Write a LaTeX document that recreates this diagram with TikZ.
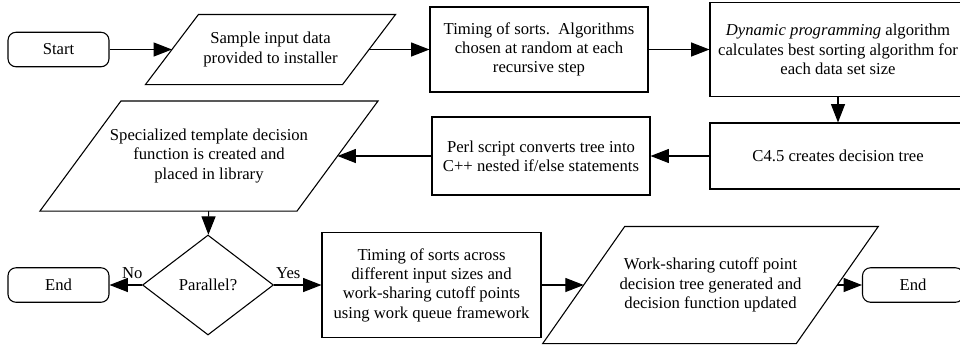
\documentclass[tikz,border=0pt]{standalone}
\usepackage{fontspec}
\setmainfont{Liberation Serif}
\usetikzlibrary{shapes.geometric, arrows.meta}
\tikzstyle{terminal} = [rectangle, rounded corners=4.8pt, minimum width=60.6pt, minimum height=20.7pt, text centered, draw=black]
\tikzstyle{process} = [rectangle, align=center, draw=black]
\tikzstyle{io} = [rectangle, align=center, inner sep=1pt]
\tikzstyle{decision} = [diamond, minimum width=78.6pt, minimum height=60pt, aspect=1.3, inner sep=0pt, draw=black]
\tikzstyle{arrow} = [-{Triangle[length=11pt,width=8.4pt]}]
% slanted frame round an io node: #1 node, #2 half the slant
\newcommand{\ioframe}[2]{\draw ([xshift=-#2]#1.south west) -- ([xshift=-#2]#1.south east) -- ([xshift=#2]#1.north east) -- ([xshift=#2]#1.north west) -- cycle;}

\begin{document}
\begin{tikzpicture}[x=0.6pt, y=-0.6pt, line width=0.65pt, font=\fontsize{10}{11.6}\selectfont]
\useasboundingbox (0,0) rectangle (960,345);
% top row
\node (start) [terminal] at (58.5,49.5) {Start};
\node (sample) [io, minimum width=117.6pt, minimum height=41.4pt] at (270.5,49.5) {Sample input data\\provided to installer};
\node (timing) [process, minimum width=130.8pt, minimum height=51pt] at (539,49.5) {Timing of sorts.\ \ Algorithms\\chosen at random at each\\recursive step};
\node (dynprog) [process, minimum width=153.6pt, minimum height=56.4pt] at (838,49.5) {\textit{Dynamic programming} algorithm\\calculates best sorting algorithm for\\each data set size};
% middle row
\node (cfour) [process, minimum width=153.6pt, minimum height=39.6pt] at (838,156) {C4.5 creates decision tree};
\node (perl) [process, minimum width=130.8pt, minimum height=46.8pt] at (541,156) {Perl script converts tree into\\C++ nested if/else statements};
\node (special) [io, minimum width=153.6pt, minimum height=65.4pt] at (209,156) {Specialized template decision\\function is created and\\placed in library};
% bottom row
\node (parallel) [decision] at (208,285) {Parallel?};
\node (endl) [terminal] at (58.5,285) {End};
\node (timing2) [process, minimum width=131.4pt, minimum height=63pt] at (431.5,285) {Timing of sorts across\\different input sizes and\\work-sharing cutoff points\\using work queue framework};
\node (share) [io, minimum width=151.5pt, minimum height=69.6pt] at (710.5,285) {Work-sharing cutoff point\\decision tree generated and\\decision function updated};
\node (endr) [terminal] at (913,285) {End};

\ioframe{sample}{15.9pt}
\ioframe{special}{24.3pt}
\ioframe{share}{24.6pt}

\draw [arrow] (start) -- (sample);
\draw [arrow] (sample) -- (timing);
\draw [arrow] (timing) -- (dynprog);
\draw [arrow] (dynprog) -- (cfour);
\draw [arrow] (cfour) -- (perl);
\draw [arrow] (perl) -- (special);
\draw [arrow] (special) -- (parallel);
\draw [arrow] (parallel) -- node[above, pos=0.3] {No} (endl);
\draw [arrow] (parallel) -- node[above, pos=0.3] {Yes} (timing2);
\draw [arrow] (timing2) -- (share);
\draw [arrow] (share) -- (endr);
\end{tikzpicture}
\end{document}
